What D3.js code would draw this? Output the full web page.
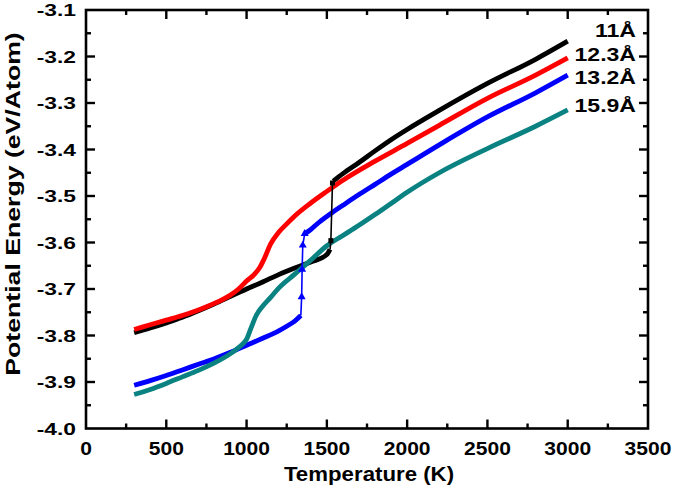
<!DOCTYPE html>
<html><head><meta charset="utf-8">
<script src="https://cdn.jsdelivr.net/npm/d3@7"></script>
<style>
body{margin:0;background:#fff}
text{font-family:"Liberation Sans",Arial,sans-serif;font-weight:bold;fill:#000}
</style>
</head><body>
<svg id="chart" width="675" height="489"></svg>
<script>
// ---------------- data ----------------
const xTickValues = [0, 500, 1000, 1500, 2000, 2500, 3000, 3500];
const xMinorValues = [250, 750, 1250, 1750, 2250, 2750, 3250];
const yTickValues = [-4.0, -3.9, -3.8, -3.7, -3.6, -3.5, -3.4, -3.3, -3.2, -3.1];
const yMinorValues = [-3.95, -3.85, -3.75, -3.65, -3.55, -3.45, -3.35, -3.25, -3.15];
const seriesLabels = ["11Å", "12.3Å", "13.2Å", "15.9Å"];

// 11 Å (black)
const t11Low  = [300,400,500,600,700,800,900,1000,1100,1200,1300,1400,1500,1520];
const e11Low  = [-3.794,-3.784,-3.773,-3.761,-3.747,-3.732,-3.716,-3.700,-3.685,-3.669,-3.655,-3.642,-3.626,-3.615];
const t11Jump = [1525,1535];
const e11Jump = [-3.596,-3.472];
const t11High = [1540,1600,1700,1800,1900,2000,2200,2500,2800,3000];
const e11High = [-3.468,-3.452,-3.428,-3.403,-3.379,-3.357,-3.316,-3.258,-3.206,-3.167];

// 12.3 Å (red)
const t123 = [300,400,500,600,700,800,900,950,1000,1050,1080,1110,1150,1200,1250,1300,1400,1500,1600,1800,2000,2200,2500,2800,3000];
const e123 = [-3.787,-3.777,-3.767,-3.757,-3.745,-3.731,-3.713,-3.700,-3.683,-3.668,-3.655,-3.635,-3.603,-3.578,-3.560,-3.543,-3.515,-3.490,-3.466,-3.425,-3.387,-3.348,-3.290,-3.240,-3.203];

// 13.2 Å (blue)
const t132Low  = [300,400,500,600,700,800,900,1000,1100,1200,1250,1300,1338];
const e132Low  = [-3.907,-3.897,-3.886,-3.874,-3.862,-3.850,-3.836,-3.821,-3.806,-3.790,-3.780,-3.769,-3.757];
const t132Jump = [1343,1346,1350];
const e132Jump = [-3.717,-3.658,-3.606];
const t132High = [1362,1400,1450,1540,1600,1700,1800,1900,2000,2200,2500,2800,3000];
const e132High = [-3.581,-3.572,-3.557,-3.534,-3.520,-3.497,-3.475,-3.453,-3.432,-3.390,-3.330,-3.278,-3.240];

// 15.9 Å (teal)
const t159 = [300,400,500,600,700,800,900,950,980,1000,1030,1060,1100,1150,1200,1300,1400,1500,1600,1700,1800,1900,2000,2200,2500,2800,3000];
const e159 = [-3.927,-3.916,-3.903,-3.889,-3.875,-3.859,-3.839,-3.826,-3.817,-3.808,-3.782,-3.757,-3.737,-3.718,-3.698,-3.668,-3.638,-3.607,-3.585,-3.563,-3.540,-3.516,-3.492,-3.450,-3.398,-3.350,-3.315];

const colors = ["#000000", "#ff0000", "#0000ff", "#0a8282"];

// ---------------- layout ----------------
const L = 86, R = 648, T = 10, B = 428.5;
const svg = d3.select("#chart");
const x = d3.scaleLinear().domain([0, 3500]).range([L, R]);
const y = d3.scaleLinear().domain([-4.0, -3.1]).range([B, T]);

const zip = (ts, es) => ts.map((t, i) => [t, es[i]]);
const line = d3.line().x(d => x(d[0])).y(d => y(d[1]));
const smooth = d3.line().x(d => x(d[0])).y(d => y(d[1])).curve(d3.curveMonotoneX);

// thick series
const thick = [
  {pts: zip(t11Low, e11Low), c: colors[0]},
  {pts: zip(t11High, e11High), c: colors[0]},
  {pts: zip(t123, e123), c: colors[1]},
  {pts: zip(t132Low, e132Low), c: colors[2]},
  {pts: zip(t132High, e132High), c: colors[2]},
  {pts: zip(t159, e159), c: colors[3]}
];
svg.append("g").selectAll("path").data(thick).join("path")
  .attr("d", d => smooth(d.pts)).attr("fill", "none")
  .attr("stroke", d => d.c).attr("stroke-width", 4.8)
  .attr("stroke-linejoin", "round");

// thin jump connectors
const blackJump = [zip(t11Low, e11Low).slice(-1)[0], ...zip(t11Jump, e11Jump), zip(t11High, e11High)[0]];
const blueJump = [zip(t132Low, e132Low).slice(-1)[0], ...zip(t132Jump, e132Jump), zip(t132High, e132High)[0]];
svg.append("path").attr("d", line(blackJump)).attr("fill", "none").attr("stroke", colors[0]).attr("stroke-width", 1.6);
svg.append("path").attr("d", line(blueJump)).attr("fill", "none").attr("stroke", colors[2]).attr("stroke-width", 1.6);

// markers on jumps
svg.append("g").selectAll("rect").data(zip(t11Jump, e11Jump)).join("rect")
  .attr("x", d => x(d[0]) - 2.5).attr("y", d => y(d[1]) - 2.5)
  .attr("width", 5).attr("height", 5).attr("fill", colors[0]);
const tri = d3.symbol().type(d3.symbolTriangle).size(28);
svg.append("g").selectAll("path").data([...zip(t132Jump, e132Jump), zip(t132High, e132High)[0]]).join("path")
  .attr("d", tri).attr("transform", d => `translate(${x(d[0])},${y(d[1])})`)
  .attr("fill", colors[2]);

// ---------------- axes / frame ----------------
const frame = svg.append("g").attr("fill", "none").attr("stroke", "#000").attr("stroke-width", 2.6);
frame.append("rect").attr("x", L).attr("y", T).attr("width", R - L).attr("height", B - T);

const tickG = svg.append("g").attr("stroke", "#000").attr("stroke-width", 2.4);
const majL = 9, minL = 5;
xTickValues.concat(xMinorValues).forEach(v => {
  const len = xTickValues.includes(v) ? majL : minL;
  if (v === 0 || v === 3500) return;
  tickG.append("line").attr("x1", x(v)).attr("x2", x(v)).attr("y1", B).attr("y2", B - len);
  tickG.append("line").attr("x1", x(v)).attr("x2", x(v)).attr("y1", T).attr("y2", T + len);
});
yTickValues.concat(yMinorValues).forEach(v => {
  const len = yTickValues.includes(v) ? majL : minL;
  if (v === -4.0 || v === -3.1) return;
  tickG.append("line").attr("x1", L).attr("x2", L + len).attr("y1", y(v)).attr("y2", y(v));
  tickG.append("line").attr("x1", R).attr("x2", R - len).attr("y1", y(v)).attr("y2", y(v));
});

// tick labels
svg.append("g").selectAll("text").data(xTickValues).join("text")
  .attr("transform", d => `translate(${x(d)},455) scale(1.17,1)`)
  .attr("text-anchor", "middle").attr("font-size", 18).text(d => d);
svg.append("g").selectAll("text").data(yTickValues).join("text")
  .attr("transform", d => `translate(${L - 10},${y(d) + 6}) scale(1.38,1)`)
  .attr("text-anchor", "end").attr("font-size", 16.5).text(d => d.toFixed(1));

// axis titles
svg.append("text").attr("transform", `translate(369,481) scale(1.06,1)`)
  .attr("text-anchor", "middle").attr("font-size", 21).text("Temperature (K)");
svg.append("text").attr("transform", `translate(19.5,204) rotate(-90) scale(1.3,1)`)
  .attr("text-anchor", "middle").attr("font-size", 20.5).text("Potential Energy (eV/Atom)");

// series labels
const labelBaselines = [36.7, 60.7, 84, 112.3];
svg.append("g").selectAll("text").data(seriesLabels).join("text")
  .attr("transform", (d, i) => `translate(636,${labelBaselines[i]}) scale(1.28,1)`)
  .attr("text-anchor", "end").attr("font-size", 18).text(d => d);
</script>
</body></html>
